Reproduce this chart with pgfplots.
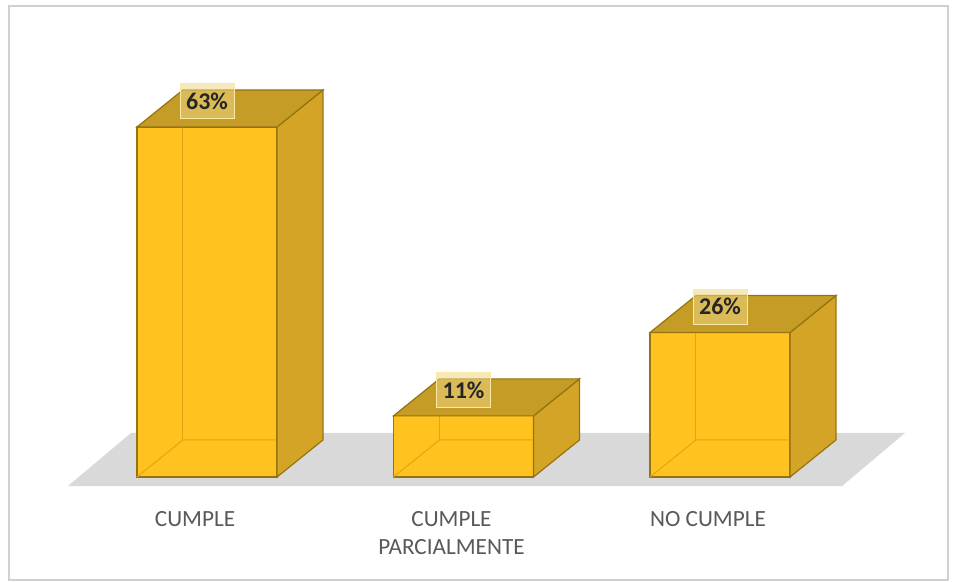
\documentclass[border=0pt]{standalone}
\usepackage{fontspec}
\setmainfont{Carlito}
\usepackage{pgfplots}
\pgfplotsset{compat=1.18}
\definecolor{front}{RGB}{255,194,30}
\definecolor{topf}{RGB}{196,156,38}
\definecolor{sidef}{RGB}{212,164,38}
\definecolor{edge}{RGB}{150,115,15}
\definecolor{inner}{RGB}{225,165,20}
\definecolor{floorc}{RGB}{217,217,217}
\definecolor{framec}{RGB}{208,208,208}
\definecolor{lblfill}{RGB}{238,214,130}
\definecolor{lbldraw}{RGB}{250,232,165}
\definecolor{cattext}{RGB}{89,89,89}
\begin{document}
\begin{tikzpicture}
\begin{axis}[
  scale only axis, width=478pt, height=290.5pt,
  xmin=-0.8070, xmax=2.9201, ymin=-18.72, ymax=85.86,
  axis background/.style={fill=white},
  axis line style={draw=none}, tick style={draw=none},
  ytick=\empty,
  xtick={0,1,2},
  xticklabels={CUMPLE,{CUMPLE\\PARCIALMENTE},NO CUMPLE},
  xticklabel style={align=center, font=\fontsize{11.6}{14}\selectfont, text=cattext, anchor=north, yshift=38.5pt, xshift=-6pt},
  clip=false,
  /pgf/number format/assume math mode=true,
]
% frame
\draw[framec, line width=0.6pt] (axis cs:-0.772,-18.54) rectangle (axis cs:2.889,84.79);
% floor
\addplot[fill=floorc, draw=none] coordinates {(-0.542,-1.62) (2.476,-1.62) (2.721,7.92) (-0.296,7.92)} -- cycle;
% front faces
\addplot[ybar, bar width=0.546, fill=front, draw=edge, line width=0.6pt] coordinates {(0,63) (1,11) (2,26)};
% inner (back) edges seen through the bars
\addplot[inner, line width=0.5pt] coordinates {(-0.273,0) (-0.094,6.66) (0.452,6.66)};
\addplot[inner, line width=0.5pt] coordinates {(-0.094,6.66) (-0.094,69.66)};
\addplot[inner, line width=0.5pt] coordinates {(0.727,0) (0.906,6.66) (1.452,6.66)};
\addplot[inner, line width=0.5pt] coordinates {(0.906,6.66) (0.906,17.66)};
\addplot[inner, line width=0.5pt] coordinates {(1.727,0) (1.906,6.66) (2.452,6.66)};
\addplot[inner, line width=0.5pt] coordinates {(1.906,6.66) (1.906,32.66)};
% side faces
\addplot[fill=sidef, draw=edge, line width=0.6pt] coordinates {(0.273,0) (0.452,6.66) (0.452,69.66) (0.273,63)} -- cycle;
\addplot[fill=sidef, draw=edge, line width=0.6pt] coordinates {(1.273,0) (1.452,6.66) (1.452,17.66) (1.273,11)} -- cycle;
\addplot[fill=sidef, draw=edge, line width=0.6pt] coordinates {(2.273,0) (2.452,6.66) (2.452,32.66) (2.273,26)} -- cycle;
% top faces
\addplot[fill=topf, draw=edge, line width=0.6pt] coordinates {(-0.273,63) (0.273,63) (0.452,69.66) (-0.094,69.66)} -- cycle;
\addplot[fill=topf, draw=edge, line width=0.6pt] coordinates {(0.727,11) (1.273,11) (1.452,17.66) (0.906,17.66)} -- cycle;
\addplot[fill=topf, draw=edge, line width=0.6pt] coordinates {(1.727,26) (2.273,26) (2.452,32.66) (1.906,32.66)} -- cycle;
% value labels
\addplot[draw=none, mark=none,
  nodes near coords={\pgfmathprintnumber{\pgfplotspointmeta}\%},
  nodes near coords align={center},
  every node near coord/.append style={font=\fontsize{12}{14}\selectfont\bfseries, text=black!85, fill=lblfill, fill opacity=0.55, text opacity=1, draw=lbldraw, inner xsep=3pt, inner ysep=4.5pt, anchor=center, yshift=13pt}
] coordinates {(0,63) (1,11) (2,26)};
\end{axis}
\end{tikzpicture}
\end{document}
